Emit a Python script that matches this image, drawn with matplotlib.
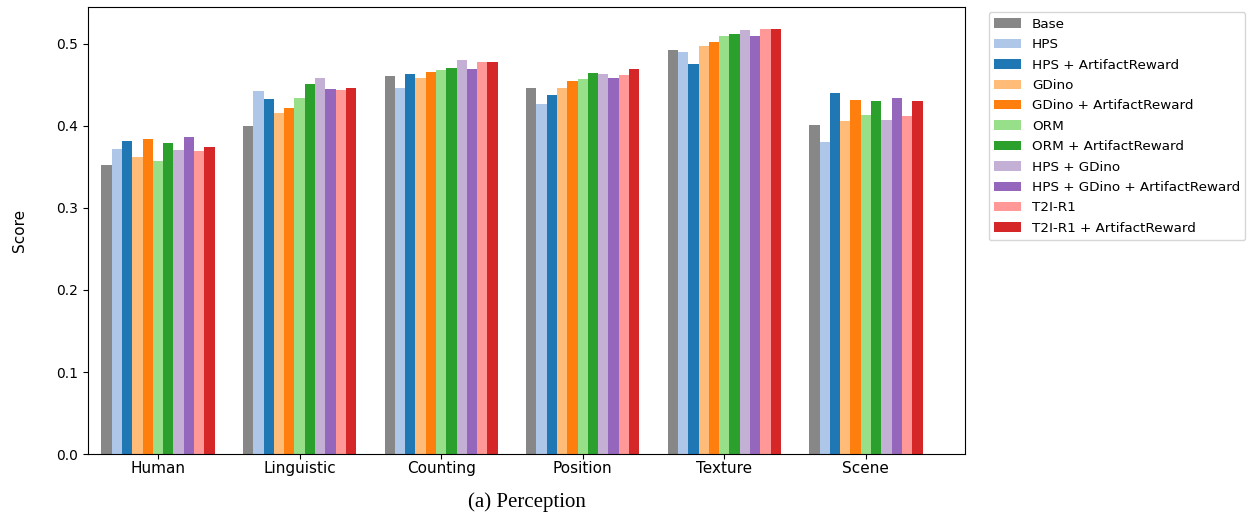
import numpy as np
import matplotlib
matplotlib.use("Agg")
import matplotlib.pyplot as plt

categories = ["Human", "Linguistic", "Counting", "Position", "Texture", "Scene"]

methods = [
    "Base",
    "HPS",
    "HPS + ArtifactReward",
    "GDino",
    "GDino + ArtifactReward",
    "ORM",
    "ORM + ArtifactReward",
    "HPS + GDino",
    "HPS + GDino + ArtifactReward",
    "T2I-R1",
    "T2I-R1 + ArtifactReward",
]

base = [0.352, 0.400, 0.461, 0.446, 0.493, 0.401]
hps = [0.372, 0.443, 0.446, 0.427, 0.490, 0.380]
hps_ar = [0.382, 0.433, 0.463, 0.438, 0.476, 0.440]
gdino = [0.362, 0.416, 0.459, 0.446, 0.498, 0.406]
gdino_ar = [0.384, 0.422, 0.466, 0.455, 0.502, 0.432]
orm = [0.357, 0.434, 0.468, 0.457, 0.510, 0.413]
orm_ar = [0.379, 0.451, 0.471, 0.465, 0.512, 0.430]
hps_gdino = [0.371, 0.459, 0.480, 0.463, 0.517, 0.407]
hps_gdino_ar = [0.387, 0.445, 0.470, 0.459, 0.510, 0.434]
t2i_r1 = [0.370, 0.444, 0.478, 0.462, 0.518, 0.412]
t2i_r1_ar = [0.374, 0.446, 0.478, 0.470, 0.518, 0.430]

series = [base, hps, hps_ar, gdino, gdino_ar, orm, orm_ar,
          hps_gdino, hps_gdino_ar, t2i_r1, t2i_r1_ar]

colors = ["#878787", "#aec7e8", "#1f77b4", "#ffbb78", "#ff7f0e", "#98df8a",
          "#2ca02c", "#c5b0d5", "#9467bd", "#ff9896", "#d62728"]

fig = plt.figure(figsize=(12.52, 5.19), dpi=100)
ax = fig.add_axes([0.0703, 0.1252, 0.7005, 0.8613])

x = np.arange(len(categories))
n = len(methods)
width = 0.8 / n
for i, (name, vals, c) in enumerate(zip(methods, series, colors)):
    offset = (i - (n - 1) / 2) * width
    ax.bar(x + offset, vals, width, label=name, color=c)

ax.set_xticks(x)
ax.set_xticklabels(categories, fontsize=11)
ax.tick_params(axis="x", pad=1.2)
ax.tick_params(axis="y", labelsize=10)
ax.set_ylabel("Score", fontsize=11)
ax.yaxis.set_label_coords(-0.0696, 0.5)
ax.set_xlim(-0.494, 5.70)
ax.set_ylim(0, 0.545)

ax.legend(loc="upper left", bbox_to_anchor=(1.027, 0.988), fontsize=9.7,
          handlelength=2.0, labelspacing=0.55, borderaxespad=0)

fig.text(0.421, 0.033, "(a) Perception", ha="center", va="center",
         fontsize=15, family="Liberation Serif")

fig.savefig("out.png", dpi=100)
